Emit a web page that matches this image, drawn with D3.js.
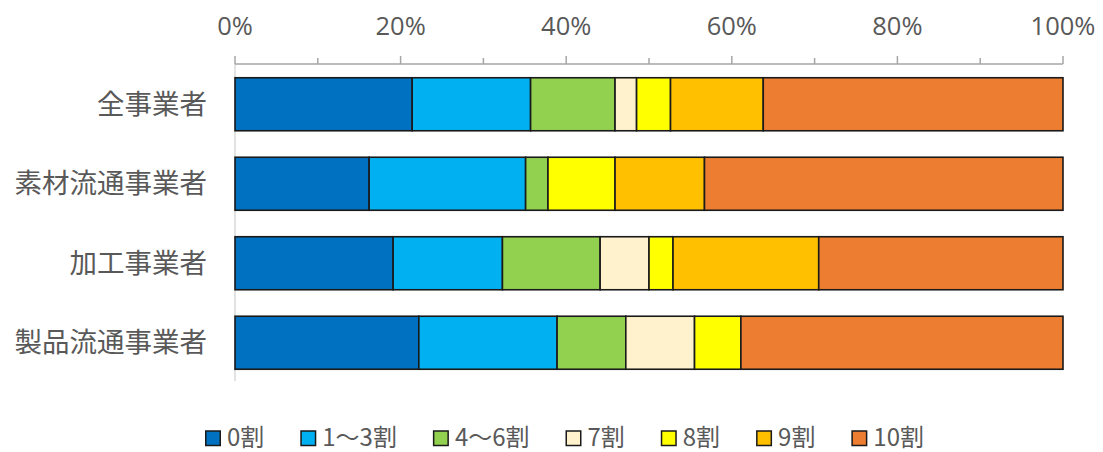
<!DOCTYPE html>
<html>
<head>
<meta charset="utf-8">
<script src="https://cdn.jsdelivr.net/npm/d3@7"></script>
<style>
  html, body { margin: 0; padding: 0; background: #fff; }
  svg { display: block; font-family: "Noto Sans CJK JP", sans-serif; }
  .latin { font-family: "Open Sans", sans-serif; }
</style>
</head>
<body>
<svg id="chart" width="1103" height="452"></svg>
<script>
// ---- data ----
const categories = ["全事業者", "素材流通事業者", "加工事業者", "製品流通事業者"];
const seriesNames = ["0割", "1～3割", "4～6割", "7割", "8割", "9割", "10割"];
const seriesColors = ["#0070C0", "#00B0F0", "#92D050", "#FFF2CC", "#FFFF00", "#FFC000", "#ED7D31"];
// percentage per category for each series (same order as categories)
const s0  = [21.4, 16.2, 19.1, 22.2];
const s13 = [14.3, 18.9, 13.2, 16.7];
const s46 = [10.2, 2.7, 11.8, 8.3];
const s7  = [2.6, 0.0, 5.9, 8.3];
const s8  = [4.1, 8.1, 2.9, 5.6];
const s9  = [11.2, 10.8, 17.6, 0.0];
const s10 = [36.2, 43.3, 29.5, 38.9];
const tickValues = [0, 20, 40, 60, 80, 100];
const minorTickValues = [10, 30, 50, 70, 90];
const tickLabel = v => v + "%";

const seriesValues = [s0, s13, s46, s7, s8, s9, s10];

// ---- layout ----
const svg = d3.select("#chart");
const textColor = "#595959";

const x = d3.scaleLinear().domain([0, 100]).range([235, 1063]);
const y = d3.scaleBand().domain(categories).range([64.5, 382.5]).paddingInner(0.333).paddingOuter(0.1667);

// stacked data
const table = categories.map((c, i) => {
  const row = { category: c };
  seriesNames.forEach((s, j) => row[s] = seriesValues[j][i]);
  return row;
});
const stacked = d3.stack().keys(seriesNames)(table);

// vertical category axis line
svg.append("line")
  .attr("x1", x(0)).attr("x2", x(0))
  .attr("y1", 64).attr("y2", 381)
  .attr("stroke", "#D9D9D9").attr("stroke-width", 1.5);

// top axis
const axisY = 64;
const axis = svg.append("g").attr("transform", `translate(0,${axisY})`);
axis.append("line")
  .attr("x1", x(0)).attr("x2", x(100))
  .attr("stroke", "#A6A6A6").attr("stroke-width", 1.5);
axis.selectAll("line.major").data(tickValues).join("line")
  .attr("class", "major")
  .attr("x1", d => x(d)).attr("x2", d => x(d))
  .attr("y1", 0).attr("y2", -8)
  .attr("stroke", "#A6A6A6").attr("stroke-width", 1.5);
axis.selectAll("line.minor").data(minorTickValues).join("line")
  .attr("class", "minor")
  .attr("x1", d => x(d)).attr("x2", d => x(d))
  .attr("y1", 0).attr("y2", -6)
  .attr("stroke", "#A6A6A6").attr("stroke-width", 1.5);
axis.selectAll("text").data(tickValues).join("text")
  .attr("class", "latin")
  .attr("x", d => x(d)).attr("y", -29.5)
  .attr("text-anchor", "middle")
  .attr("fill", textColor)
  .attr("font-size", 25.5)
  .text(tickLabel);

// bars
const layers = svg.append("g").selectAll("g").data(stacked).join("g")
  .attr("fill", (d, i) => seriesColors[i]);
layers.selectAll("rect").data(d => d.filter(p => p[1] - p[0] > 0)).join("rect")
  .attr("x", d => x(d[0]))
  .attr("width", d => x(d[1]) - x(d[0]))
  .attr("y", d => y(d.data.category))
  .attr("height", y.bandwidth())
  .attr("stroke", "#1a1a1a")
  .attr("stroke-width", 1.6);

// category labels
svg.append("g").selectAll("text").data(categories).join("text")
  .attr("x", 207)
  .attr("y", d => y(d) + y.bandwidth() / 2)
  .attr("dy", "0.35em")
  .attr("text-anchor", "end")
  .attr("fill", textColor)
  .attr("font-size", 27.5)
  .text(d => d);

// legend: items spread between left and right limits
const legendLeft = 205, legendRight = 924, ly = 438, sq = 14.5, sqGap = 22;
const legend = svg.append("g");
const items = seriesNames.map((name, i) => {
  const g = legend.append("g");
  const r = g.append("rect")
    .attr("y", ly - 7)
    .attr("width", sq).attr("height", sq)
    .attr("fill", seriesColors[i])
    .attr("stroke", "#1a1a1a").attr("stroke-width", 1.5);
  const t = g.append("text")
    .attr("y", ly + 8)
    .attr("fill", textColor)
    .attr("font-size", 24)
    .text(name);
  return { r, t, w: t.node().getComputedTextLength() };
});
const totalItems = d3.sum(items, d => sqGap + d.w);
const gap = (legendRight - legendLeft - totalItems) / (items.length - 1);
let lx = legendLeft;
items.forEach(it => {
  it.r.attr("x", lx + 0.75);
  it.t.attr("x", lx + sqGap);
  lx += sqGap + it.w + gap;
});
</script>
</body>
</html>
